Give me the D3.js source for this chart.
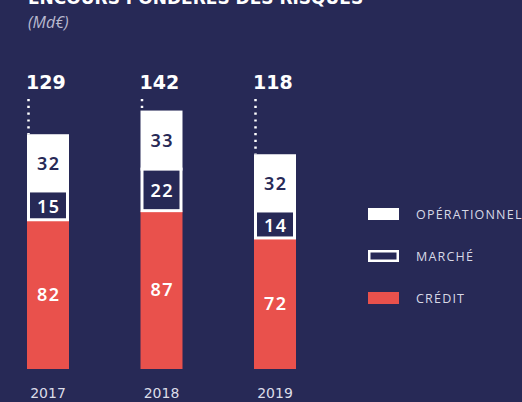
<!DOCTYPE html>
<html>
<head>
<meta charset="utf-8">
<script src="https://d3js.org/d3.v7.min.js"></script>
<style>
  body { margin: 0; background: #272956; }
  svg { display: block; }
</style>
</head>
<body>
<script>
// data
var years = ["2017", "2018", "2019"];
var credit = [82, 87, 72];
var marche = [15, 22, 14];
var operationnel = [32, 33, 32];
var totals = [129, 142, 118];
var legendLabels = ["OPÉRATIONNEL", "MARCHÉ", "CRÉDIT"];

var width = 522, height = 402;
var navy = "#272956", red = "#e9514c", white = "#ffffff";

var svg = d3.select("body").append("svg")
    .attr("width", width)
    .attr("height", height);

svg.append("rect").attr("width", width).attr("height", height).attr("fill", navy);

var numFont = "'DejaVu Sans', sans-serif";
var segFont = "'Noto Sans', sans-serif";

// title (cut at top in the original)
svg.append("text")
    .attr("x", 28).attr("y", 4)
    .attr("fill", white)
    .style("font-family", numFont)
    .style("font-weight", 700)
    .style("font-size", "17px")
    .text("ENCOURS PONDÉRÉS DES RISQUES");

svg.append("text")
    .attr("x", 28).attr("y", 28)
    .attr("fill", "#b9bad0")
    .style("font-family", "'Open Sans', sans-serif")
    .style("font-style", "italic")
    .style("font-size", "16px")
    .text("(Md€)");

var x = d3.scaleBand()
    .domain(years)
    .range([27, 296])
    .paddingInner(0.63)
    .paddingOuter(0);

var y = d3.scaleLinear()
    .domain([0, 150])
    .range([369, 369 - 150 * 1.82]);

var rows = years.map(function (yr, i) {
    return { year: yr, credit: credit[i], marche: marche[i], op: operationnel[i], total: totals[i] };
});

var stack = d3.stack().keys(["credit", "marche", "op"])(rows);

var g = svg.append("g");

// credit
g.selectAll(".credit").data(stack[0]).enter().append("rect")
    .attr("x", function (d) { return x(d.data.year); })
    .attr("y", function (d) { return y(d[1]); })
    .attr("width", x.bandwidth())
    .attr("height", function (d) { return y(d[0]) - y(d[1]); })
    .attr("fill", red);

// operationnel
g.selectAll(".op").data(stack[2]).enter().append("rect")
    .attr("x", function (d) { return x(d.data.year); })
    .attr("y", function (d) { return y(d[1]); })
    .attr("width", x.bandwidth())
    .attr("height", function (d) { return y(d[0]) - y(d[1]); })
    .attr("fill", white);

// marche : outlined box
g.selectAll(".marche").data(stack[1]).enter().append("rect")
    .attr("x", function (d) { return x(d.data.year) + 1.5; })
    .attr("y", function (d) { return y(d[1]) - 1.5; })
    .attr("width", x.bandwidth() - 3)
    .attr("height", function (d) { return y(d[0]) - y(d[1]) + 1.5; })
    .attr("fill", navy)
    .attr("stroke", white)
    .attr("stroke-width", 3);

var labels = [
    { s: stack[0], color: white },
    { s: stack[1], color: white },
    { s: stack[2], color: navy }
];
labels.forEach(function (l) {
    g.selectAll(null).data(l.s).enter().append("text")
        .attr("x", function (d) { return x(d.data.year) + x.bandwidth() / 2 + 0.7; })
        .attr("y", function (d) { return (y(d[0]) + y(d[1])) / 2; })
        .attr("dy", "0.36em")
        .attr("text-anchor", "middle")
        .attr("fill", l.color)
        .style("font-family", segFont)
        .style("font-weight", 600)
        .style("font-size", "18px")
        .style("letter-spacing", "1.4px")
        .text(function (d) { return d[1] - d[0]; });
});

// dotted leader + totals
g.selectAll(".lead").data(rows).enter().append("line")
    .attr("x1", function (d) { return x(d.year) + 1.5; })
    .attr("x2", function (d) { return x(d.year) + 1.5; })
    .attr("y1", 99)
    .attr("y2", function (d) { return y(d.total); })
    .attr("stroke", white)
    .attr("stroke-width", 2.5)
    .attr("stroke-dasharray", "2.2,4.6");

g.selectAll(".total").data(rows).enter().append("text")
    .attr("x", function (d) { return x(d.year) - 1; })
    .attr("y", 89)
    .attr("fill", white)
    .style("font-family", numFont)
    .style("font-weight", 700)
    .style("font-size", "19px")
    .text(function (d) { return d.total; });

// year axis
var xAxis = d3.axisBottom(x).tickSize(0).tickPadding(0);
var ax = svg.append("g")
    .attr("transform", "translate(0,388)")
    .call(xAxis);
ax.select(".domain").remove();
ax.selectAll("text")
    .attr("dy", "0.71em")
    .attr("fill", "#dcdde8")
    .style("font-family", numFont)
    .style("font-size", "14px");

// legend
var ly = d3.scalePoint().domain(legendLabels).range([214, 298]);
var leg = svg.append("g").selectAll("g").data(legendLabels).enter().append("g")
    .attr("transform", function (d) { return "translate(368," + ly(d) + ")"; });

leg.append("rect")
    .attr("x", function (d, i) { return i === 1 ? 1.25 : 0; })
    .attr("y", function (d, i) { return i === 1 ? -4.75 : -6; })
    .attr("width", function (d, i) { return i === 1 ? 28.5 : 31; })
    .attr("height", function (d, i) { return i === 1 ? 9.5 : 12; })
    .attr("fill", function (d, i) { return [white, navy, red][i]; })
    .attr("stroke", function (d, i) { return i === 1 ? white : "none"; })
    .attr("stroke-width", 2.5);

leg.append("text")
    .attr("x", 48)
    .attr("dy", "0.36em")
    .attr("fill", "#d8d9e6")
    .style("font-family", "'Open Sans', sans-serif")
    .style("font-size", "12.5px")
    .style("letter-spacing", "1.2px")
    .text(function (d) { return d; });
</script>
</body>
</html>
